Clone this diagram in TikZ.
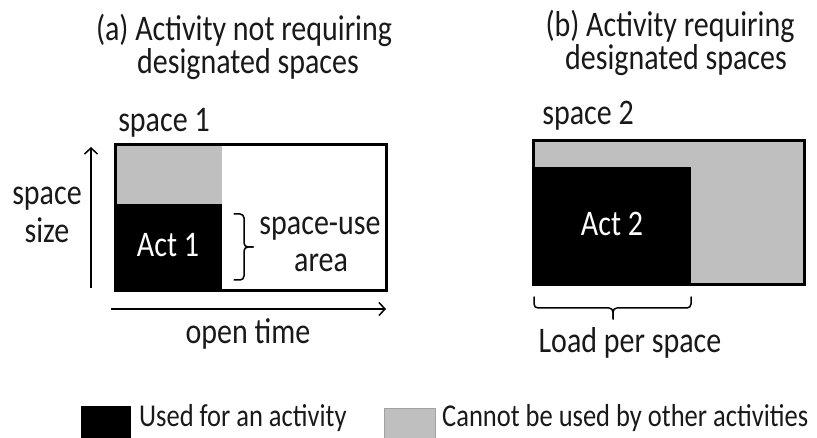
\documentclass[tikz,border=0pt]{standalone}
\usepackage{fontspec}
\setmainfont{Carlito}
\usetikzlibrary{arrows.meta}
\definecolor{lgray}{RGB}{191,191,191}
\definecolor{txt}{RGB}{25,25,25}
\newcommand{\tallt}[1]{\scalebox{1}[1.2]{#1}}
\begin{document}
\begin{tikzpicture}[x=1pt,y=-1pt,
  lbl/.style={font=\fontsize{30}{32}\selectfont, inner sep=0pt, anchor=base, text=txt},
  leg/.style={font=\fontsize{26.5}{30}\selectfont, inner sep=0pt, anchor=base west, text=txt},
  boxline/.style={line width=3pt, line join=miter},
  axis/.style={line width=1.5pt, -{Straight Barb[length=6pt,width=13pt,line width=1.5pt]}},
  bracestyle/.style={line width=1.5pt, rounded corners=4pt, line cap=round}]
\useasboundingbox (0,0) rectangle (817,438);

% titles
\node[lbl] (ta1) at (244,41) {\tallt{(a) Activity not requiring}};
\node[lbl] (ta2) at (248,74) {\tallt{designated spaces}};
\node[lbl] (tb1) at (670,37) {\tallt{(b) Activity requiring}};
\node[lbl] (tb2) at (676,70) {\tallt{designated spaces}};

% left diagram
\node[lbl] (sp1) at (164,132) {\tallt{space 1}};
\fill[lgray] (115,145) rectangle (222,204);
\fill[black] (115,204) rectangle (222,291);
\draw[boxline] (115,145) rectangle (386,291);
\node[lbl, text=white] (act1) at (168,257) {\tallt{Act 1}};

\coordinate (vs) at (91,288);
\coordinate (ve) at (91,147);
\draw[axis] (vs) -- (ve);
\node[lbl] (ss1) at (47,205) {\tallt{space}};
\node[lbl] (ss2) at (47,243) {\tallt{size}};

\coordinate (hs) at (111,309);
\coordinate (he) at (386,309);
\draw[axis] (hs) -- (he);
\node[lbl] (ot) at (248,344) {\tallt{open time}};

% brace (space-use area)
\coordinate (b1t) at (234,214);
\coordinate (b1m) at (253,247);
\coordinate (b1b) at (234,280);
\draw[bracestyle] (b1t) -- (244,214) -- (244,247) -- (b1m);
\draw[bracestyle] (b1m) -- (244,247) -- (244,280) -- (b1b);
\node[lbl] (su1) at (320,235) {\tallt{space-use}};
\node[lbl] (su2) at (321,272) {\tallt{area}};

% right diagram
\node[lbl] (sp2) at (588,125) {\tallt{space 2}};
\fill[lgray] (533,141) rectangle (804,285);
\fill[black] (533,167) rectangle (691,285);
\draw[boxline] (533,141) rectangle (804,285);
\node[lbl, text=white] (act2) at (612,236) {\tallt{Act 2}};

% brace (load per space)
\coordinate (b2l) at (534,297);
\coordinate (b2m) at (613,319);
\coordinate (b2r) at (691,297);
\draw[bracestyle] (b2l) -- (534,308) -- (613,308) -- (b2m);
\draw[bracestyle] (b2m) -- (613,308) -- (691,308) -- (b2r);
\node[lbl] (lps) at (630,353) {\tallt{Load per space}};

% legend
\fill[black] (81,406) rectangle (131,438);
\node[leg] (l1) at (139,426) {\tallt{Used for an activity}};
\filldraw[fill=lgray, draw=lgray!85!black, line width=0.6pt] (384,408) rectangle (435,439);
\node[leg] (l2) at (442,426) {\tallt{Cannot be used by other activities}};
\end{tikzpicture}
\end{document}
